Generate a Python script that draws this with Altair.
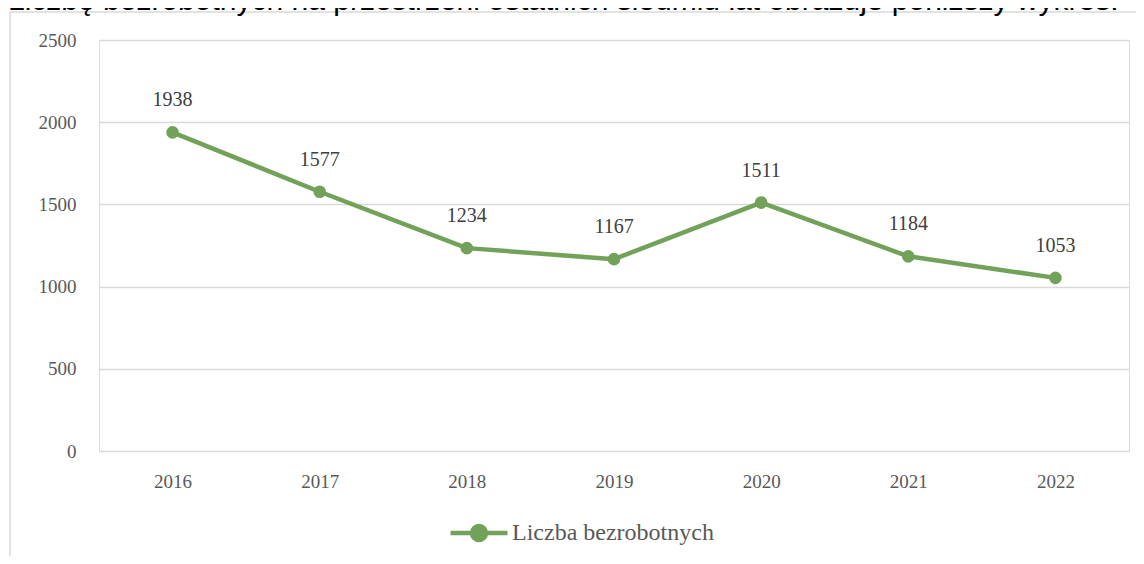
import altair as alt
import pandas as pd

years = ["2016", "2017", "2018", "2019", "2020", "2021", "2022"]
values = [1938, 1577, 1234, 1167, 1511, 1184, 1053]
series_name = "Liczba bezrobotnych"
intro_text = "Liczbę bezrobotnych na przestrzeni ostatnich siedmiu lat obrazuje poniższy wykres."
y_ticks = [0, 500, 1000, 1500, 2000, 2500]

GREEN = "#72a25a"
SERIF = "Liberation Serif"

df = pd.DataFrame({"year": years, "value": values, "series": [series_name] * len(years)})

x = alt.X("year:O", title=None,
          scale=alt.Scale(paddingOuter=0.5, paddingInner=0),
          axis=alt.Axis(labelAngle=0, ticks=False, domain=False, labelPadding=21,
                        labelFont=SERIF, labelFontSize=19, labelColor="#595959"))
y = alt.Y("value:Q", title=None,
          scale=alt.Scale(domain=[0, 2500], nice=False),
          axis=alt.Axis(values=y_ticks, format="d", ticks=False, domain=False, labelPadding=23,
                        labelFont=SERIF, labelFontSize=19, labelColor="#595959",
                        gridColor="#d9d9d9", gridWidth=1.5))

sym = "M-1,0L1,0M0.245,0A0.245,0.245,0,1,1,-0.245,0A0.245,0.245,0,1,1,0.245,0Z"

line = alt.Chart(df).mark_line(strokeWidth=4.5, strokeCap="round", strokeJoin="round").encode(
    x=x, y=y,
    color=alt.Color("series:N", scale=alt.Scale(range=[GREEN]),
                    legend=alt.Legend(title=None, orient="none", legendX=349, legendY=462,
                                      symbolType=sym, symbolSize=3249,
                                      symbolStrokeWidth=4.5, symbolFillColor=GREEN,
                                      symbolStrokeColor=GREEN, labelOffset=2, labelLimit=0,
                                      labelFont=SERIF, labelFontSize=24,
                                      labelColor="#595959", padding=0))
)

points = alt.Chart(df).mark_point(filled=True, size=160, opacity=1, color=GREEN).encode(x=x, y=y)

labels = alt.Chart(df).mark_text(dy=-32, font=SERIF, fontSize=20, color="#404040").encode(
    x=x, y=y, text=alt.Text("value:Q", format="d"))

frame_v = alt.Chart(df.head(1)).mark_rule(color="#d9d9d9", strokeWidth=1.5).encode(
    x=alt.value(-89), y=alt.value(-28), y2=alt.value(600))
frame_h = alt.Chart(df.head(1)).mark_rule(color="#d9d9d9", strokeWidth=1.5).encode(
    x=alt.value(-89), x2=alt.value(1100), y=alt.value(-28))

intro = alt.Chart(pd.DataFrame({"t": [intro_text]})).mark_text(
    align="left", baseline="alphabetic", font="Liberation Sans", fontSize=30, color="#000000"
).encode(x=alt.value(-91), y=alt.value(-30), text="t:N")

chart = alt.layer(frame_v, frame_h, intro, line, points, labels).properties(
    width=1030, height=411,
    autosize=alt.AutoSizeParams(type="none"),
    padding={"left": 91, "top": 32, "right": 7, "bottom": 105},
).configure_view(stroke=None).configure(background="white")

chart.save("out.html", embed_options={"renderer": "svg", "actions": False})
